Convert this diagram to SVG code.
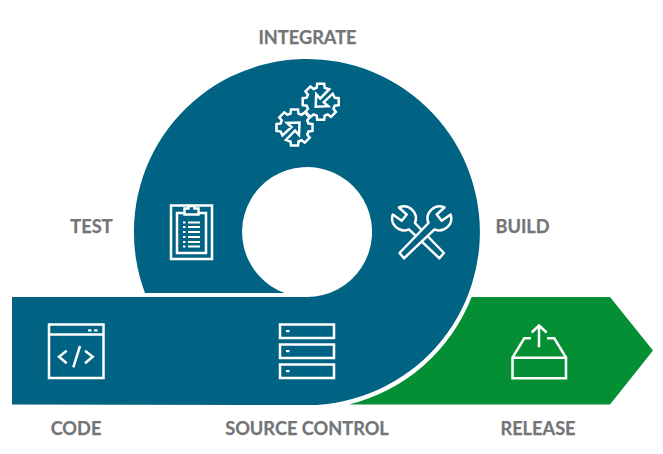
<svg xmlns="http://www.w3.org/2000/svg" width="663" height="454" viewBox="0 0 663 454">
<style>
.lbl{font-family:"Lato","Open Sans","Liberation Sans",sans-serif;font-weight:700;font-size:18.200px;fill:#737477;text-anchor:middle;stroke:#737477;stroke-width:.25}
.ic{fill:none;stroke:#fff;stroke-width:2.500;stroke-linejoin:miter}
.w{fill:#006384;stroke:#fff;stroke-width:2.500;stroke-linejoin:round}
.d{fill:#fff}
</style>
<defs>
<path id="gear" d="M14 -4L18 -3.500L18 3.500L14 4L12.730 7.070L15.200 10.250L10.250 15.200L7.070 12.730L4 14L3.500 18L-3.500 18L-4 14L-7.070 12.730L-10.250 15.200L-15.200 10.250L-12.730 7.070L-14 4L-18 3.500L-18 -3.500L-14 -4L-12.730 -7.070L-15.200 -10.250L-10.250 -15.200L-7.070 -12.730L-4 -14L-3.500 -18L3.500 -18L4 -14L8.500 -12.500L-0.500 -3L-4.500 -7.500L-5 5L7.500 4.500L3 0.500L12 -8Z"/>
<path id="wrench" d="M399.500 253L428.500 223A12 12 0 0 1 444.500 207.500L436.700 214.500L441.700 220.700L450.600 214.500A12 12 0 0 1 434.500 229.300L404 258.300Z"/>
</defs>
<rect width="663" height="454" fill="#fff"/>
<g id="release-arrow"><path d="M471.600 297H610L653 350.500L610 404.500H349A177 177 0 0 0 471.600 297Z" fill="#058f35"/></g>
<g id="loop"><path d="M12 297H307A65 65 0 1 0 284.600 293L145 293A173 173 0 1 1 307 405L12 404.500Z" fill="#006384"/></g>
<g id="integrate">
<use href="#gear" class="ic" transform="translate(320.700 101.700)"/>
<use href="#gear" class="ic" transform="translate(294.500 127.500) rotate(180)"/>
<text class="lbl" x="307.500" y="43.500">INTEGRATE</text>
</g>
<g id="test">
<rect class="ic" x="171" y="205.500" width="41" height="53.500"/>
<rect class="ic" x="177" y="213" width="29" height="40"/>
<path class="ic" style="fill:#006384" d="M184.500 214.500V208.500H188.500V206H194.500V208.500H198.500V214.500Z"/>
<g class="d"><rect x="183" y="221.500" width="2.500" height="2"/><rect x="183" y="226" width="2.500" height="2"/><rect x="183" y="231" width="2.500" height="2"/><rect x="183" y="236" width="2.500" height="2"/><rect x="183" y="241" width="2.500" height="2"/><rect x="183" y="245.500" width="2.500" height="2"/>
<rect x="188" y="221.500" width="12" height="2"/><rect x="188" y="226" width="12" height="2"/><rect x="188" y="231" width="12" height="2"/><rect x="188" y="236" width="12" height="2"/><rect x="188" y="241" width="12" height="2"/><rect x="188" y="245.500" width="12" height="2"/></g>
<text class="lbl" x="91.500" y="232.500">TEST</text>
</g>
<g id="build">
<use href="#wrench" class="w" transform="translate(843.400 0) scale(-1 1)"/>
<use href="#wrench" class="w"/>
<text class="lbl" x="522.500" y="232.500">BUILD</text>
</g>
<g id="code">
<rect class="ic" x="49" y="324.500" width="54.500" height="53.500"/>
<path class="ic" d="M49 334.500H103.500M66.700 350.700L59 356.700L66.700 363.300M85 350.700L92.700 356.700L85 363.300M80 346L73.300 367.300"/>
<rect class="d" x="88" y="329.300" width="3.500" height="2.200"/><rect class="d" x="94" y="329.300" width="3.500" height="2.200"/>
<text class="lbl" x="76" y="434.500">CODE</text>
</g>
<g id="source-control">
<rect class="ic" x="280" y="324.500" width="54" height="13.500"/>
<rect class="ic" x="280" y="344.500" width="54" height="13.500"/>
<rect class="ic" x="280" y="364.500" width="54" height="13.500"/>
<rect class="d" x="286" y="330" width="3.500" height="2.200"/><rect class="d" x="286" y="350" width="3.500" height="2.200"/><rect class="d" x="286" y="370" width="3.500" height="2.200"/>
<text class="lbl" x="307" y="434.500">SOURCE CONTROL</text>
</g>
<g id="release">
<path class="ic" d="M512.500 357.700H566V378.300H512.500ZM512.500 357.700L524.300 338.300H531M547 338.300H554.300L566 357.700M539 347.300V325.500M531.700 332.500L539 325.500L546.700 332.500"/>
<text class="lbl" x="538" y="434.500">RELEASE</text>
</g>
</svg>
